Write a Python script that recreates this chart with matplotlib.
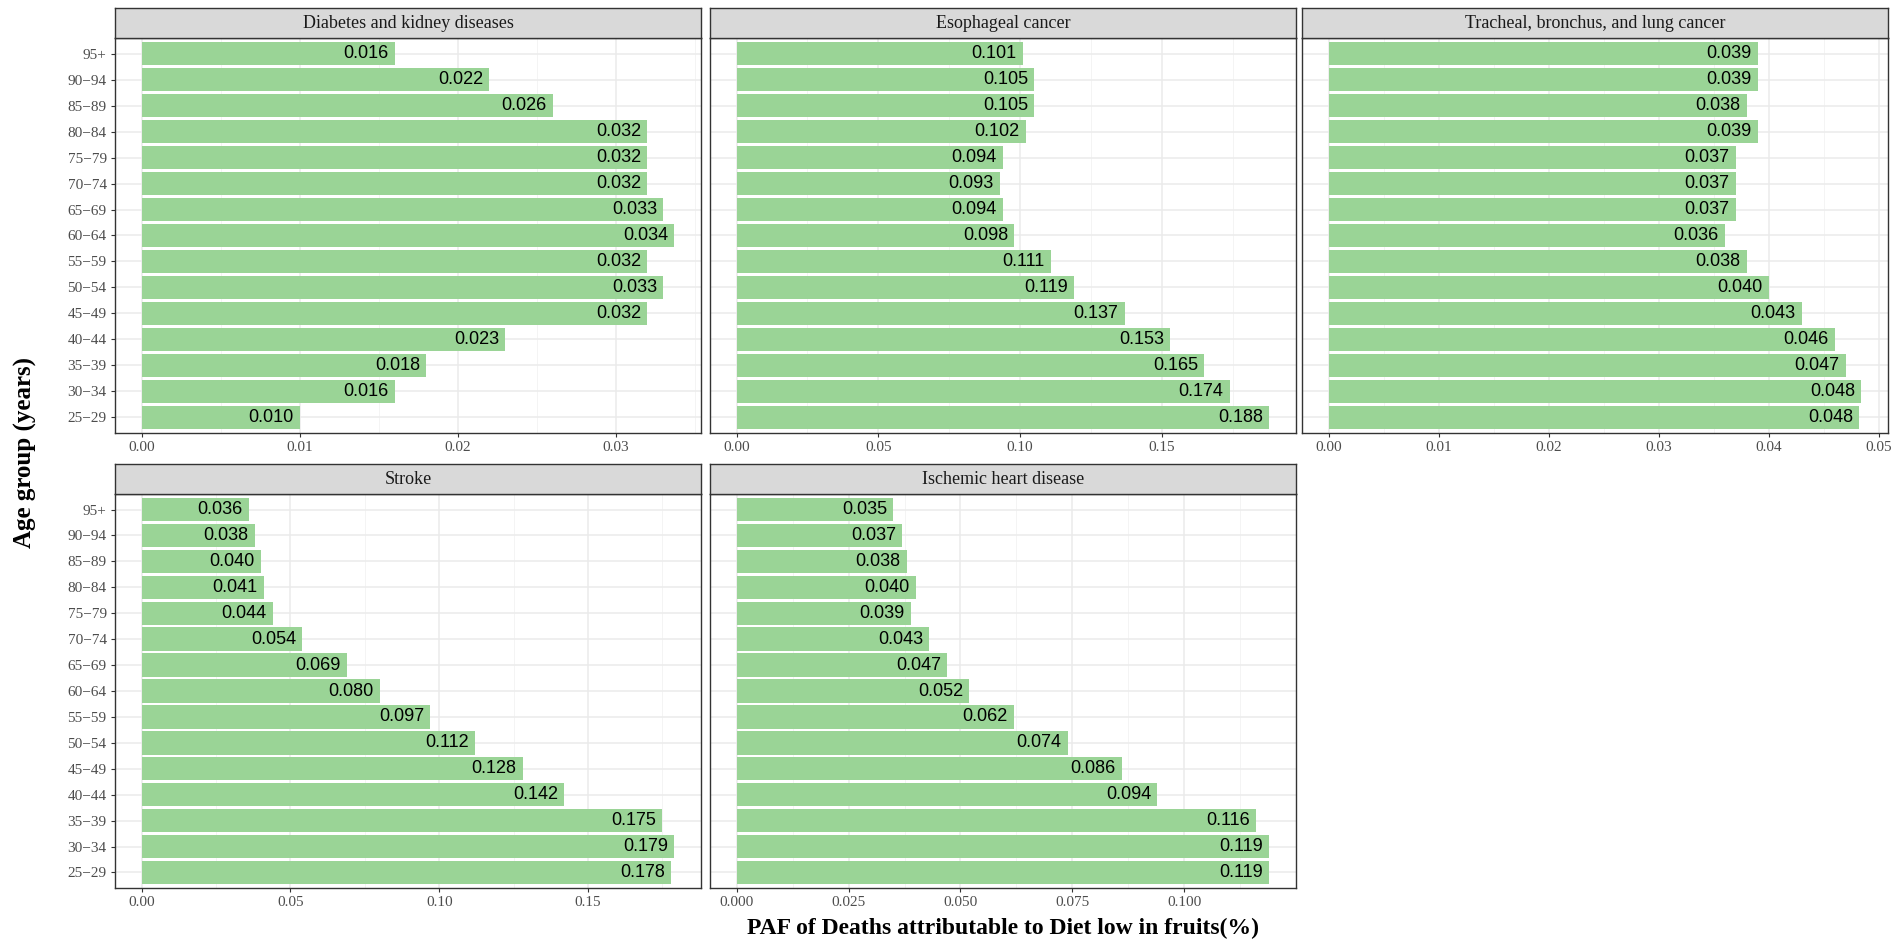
import numpy as np
import matplotlib
matplotlib.use("Agg")
import matplotlib.pyplot as plt
from matplotlib.ticker import MultipleLocator

# age groups, top to bottom as in the picture
ages = ["95+", "90\u221294", "85\u221289", "80\u221284", "75\u221279", "70\u221274", "65\u221269",
        "60\u221264", "55\u221259", "50\u221254", "45\u221249", "40\u221244", "35\u221239",
        "30\u221234", "25\u221229"]

diabetes = [0.016, 0.022, 0.026, 0.032, 0.032, 0.032, 0.033, 0.0337, 0.032, 0.033, 0.032,
            0.023, 0.018, 0.016, 0.010]
esophageal = [0.101, 0.105, 0.105, 0.102, 0.094, 0.093, 0.094, 0.098, 0.111, 0.119, 0.137,
              0.153, 0.165, 0.174, 0.188]
lung = [0.039, 0.039, 0.038, 0.039, 0.037, 0.037, 0.037, 0.036, 0.038, 0.040, 0.043,
        0.046, 0.047, 0.0484, 0.0482]
stroke = [0.036, 0.038, 0.040, 0.041, 0.044, 0.054, 0.069, 0.080, 0.097, 0.112, 0.128,
          0.142, 0.175, 0.179, 0.178]
ihd = [0.035, 0.037, 0.038, 0.040, 0.039, 0.043, 0.047, 0.052, 0.062, 0.074, 0.086,
       0.094, 0.116, 0.119, 0.119]

titles = ["Diabetes and kidney diseases", "Esophageal cancer",
          "Tracheal, bronchus, and lung cancer", "Stroke", "Ischemic heart disease"]
series = [diabetes, esophageal, lung, stroke, ihd]
steps = [0.01, 0.05, 0.01, 0.05, 0.025]
tick_fmt = ["%.2f", "%.2f", "%.2f", "%.2f", "%.3f"]

SERIF = "Liberation Serif"
SANS = "Liberation Sans"
BAR = "#9AD496"

W, H = 1902, 950
fig = plt.figure(figsize=(W / 100, H / 100), dpi=100)

col_left = [115, 710, 1302]
pw = 586
rows = [(8, 38, 433), (464, 494, 888)]  # strip top, panel top, panel bottom


def rect(x0, y0, x1, y1):
    return [x0 / W, 1 - y1 / H, (x1 - x0) / W, (y1 - y0) / H]


for i, (title, vals) in enumerate(zip(titles, series)):
    r, c = divmod(i, 3)
    st, pt, pb = rows[r]
    x0 = col_left[c]

    ax = fig.add_axes(rect(x0, pt, x0 + pw, pb))
    ypos = np.arange(len(ages))[::-1]
    ax.barh(ypos, vals, height=0.9, color=BAR, zorder=2)
    vmax = max(vals)
    ax.set_xlim(-0.05 * vmax, 1.05 * vmax)
    ax.set_ylim(-0.6, len(ages) - 0.4)

    for y, v in zip(ypos, vals):
        ax.annotate("%.3f" % v, (v, y), xytext=(-4.5, 0), textcoords="offset points",
                    ha="right", va="center", fontsize=13, family=SANS, color="black",
                    zorder=3)

    ax.xaxis.set_minor_locator(MultipleLocator(steps[i] / 2))
    ticks = [t for t in np.arange(0, 1.05 * vmax + 1e-9, steps[i])]
    ax.set_xticks(ticks)
    ax.set_xticklabels([tick_fmt[i] % t for t in ticks])
    ax.set_yticks(ypos)
    if c == 0:
        ax.set_yticklabels(ages)
    else:
        ax.set_yticklabels([])
        ax.tick_params(axis="y", which="both", length=0)

    ax.grid(True, which="major", color="#EBEBEB", linewidth=1.1, zorder=0)
    ax.grid(True, which="minor", axis="x", color="#F2F2F2", linewidth=0.6, zorder=0)
    ax.set_axisbelow(True)
    ax.tick_params(which="major", width=0.8, color="#333333",
                   labelcolor="#4D4D4D", labelsize=11, pad=3)
    if c == 0:
        ax.tick_params(axis="y", length=3)
    ax.tick_params(axis="x", length=3)
    ax.tick_params(which="minor", length=0)
    for lab in ax.get_xticklabels() + ax.get_yticklabels():
        lab.set_family(SERIF)
    for sp in ax.spines.values():
        sp.set_color("#333333")
        sp.set_linewidth(1.0)

    sax = fig.add_axes(rect(x0, st, x0 + pw, pt))
    sax.set_facecolor("#D9D9D9")
    sax.set_xticks([])
    sax.set_yticks([])
    for sp in sax.spines.values():
        sp.set_color("#333333")
        sp.set_linewidth(1.0)
    sax.text(0.5, 0.5, title, transform=sax.transAxes, ha="center", va="center",
             fontsize=13, family=SERIF, color="#1A1A1A")

fig.text(1003 / W, 1 - 928 / H, "PAF of Deaths attributable to Diet low in fruits(%)",
         ha="center", va="center", fontsize=17, fontweight="bold", family=SERIF)
fig.text(25 / W, 1 - 453 / H, "Age group (years)", rotation=90,
         ha="center", va="center", fontsize=18, fontweight="bold", family=SERIF)

fig.savefig("out.png", dpi=100, facecolor="white")
